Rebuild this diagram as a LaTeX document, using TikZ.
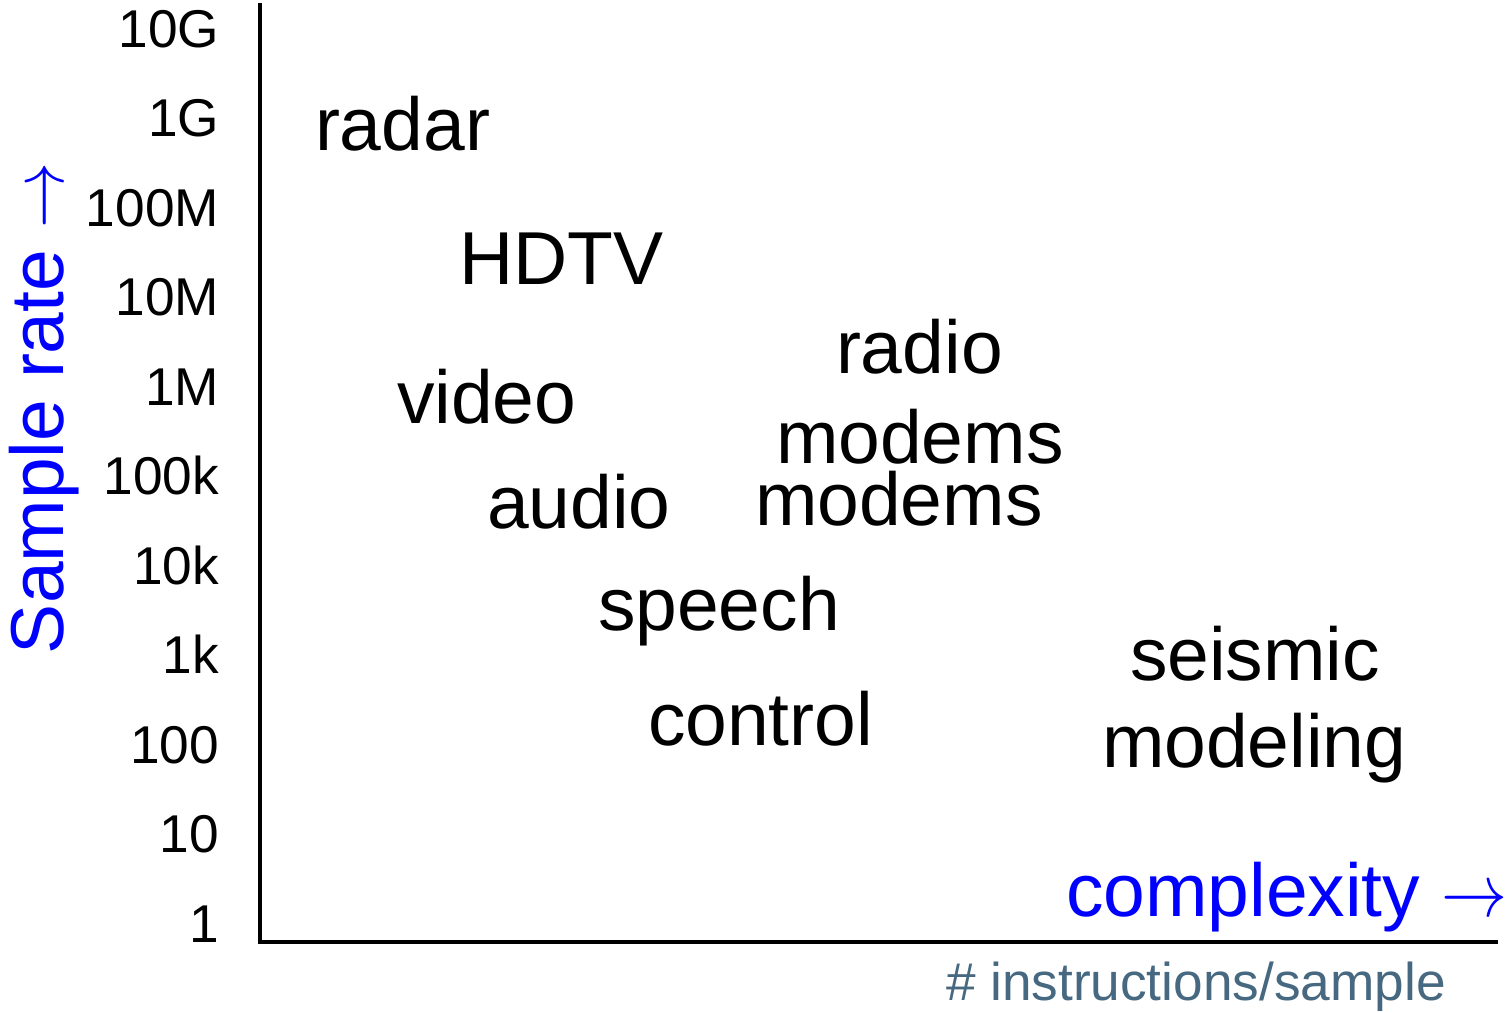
\documentclass[tikz,border=0pt]{standalone}
\usepackage{fontspec}
\setmainfont{Liberation Sans}
\definecolor{axisblue}{RGB}{0,0,255}
\definecolor{notegray}{RGB}{70,104,128}
% thin open-headed arrow at label size (the label font is 37.5pt)
\newcommand{\upto}{\scalebox{3.3}[3.75]{\normalsize$\rightarrow$}}
\begin{document}
\begin{tikzpicture}[x=0.5pt,y=-0.5pt,
  every node/.style={inner sep=0pt,outer sep=0pt},
  ticklabel/.style={anchor=base east,font=\fontsize{26.6}{32}\selectfont},
  appname/.style={anchor=base west,font=\fontsize{37.5}{45}\selectfont},
  axislabel/.style={anchor=base west,font=\fontsize{37.5}{45}\selectfont,text=axisblue},
  axisline/.style={line width=1.65pt,line cap=butt,line join=miter}]
  \useasboundingbox (0,0) rectangle (1512,1013);

  % axes
  \coordinate (top) at (260,3);
  \coordinate (origin) at (260,942);
  \coordinate (right) at (1498,942);
  \draw[axisline] (top) -- (origin) -- (right);

  % sample-rate scale, one decade per step
  \foreach \lbl [count=\i from 0] in {10G,1G,100M,10M,1M,100k,10k,1k,100,10,1}
    \node[ticklabel] (tick\i) at (219,{47+89.5*\i}) {\lbl};

  % axis titles
  \node[axislabel,rotate=90] (ylabel) at (63,654) {Sample rate \upto};
  \node[axislabel] (xlabel) at (1066,916) {complexity \upto};
  \node[anchor=base west,font=\fontsize{26.6}{32}\selectfont,text=notegray]
    (xnote) at (946,1000) {\# instructions/sample};

  % applications
  \node[appname] (radar)    at (315,150) {radar};
  \node[appname] (hdtv)     at (459,284) {HDTV};
  \node[appname] (radio)    at (836,373) {radio};
  \node[appname] (video)    at (397,423) {video};
  \node[appname] (modemsA)  at (776,463) {modems};
  \node[appname] (modemsB)  at (755,525) {modems};
  \node[appname] (audio)    at (487,528) {audio};
  \node[appname] (speech)   at (598,630) {speech};
  \node[appname] (seismic)  at (1130,680) {seismic};
  \node[appname] (control)  at (648,745) {control};
  \node[appname] (modeling) at (1102,767) {modeling};
\end{tikzpicture}
\end{document}
